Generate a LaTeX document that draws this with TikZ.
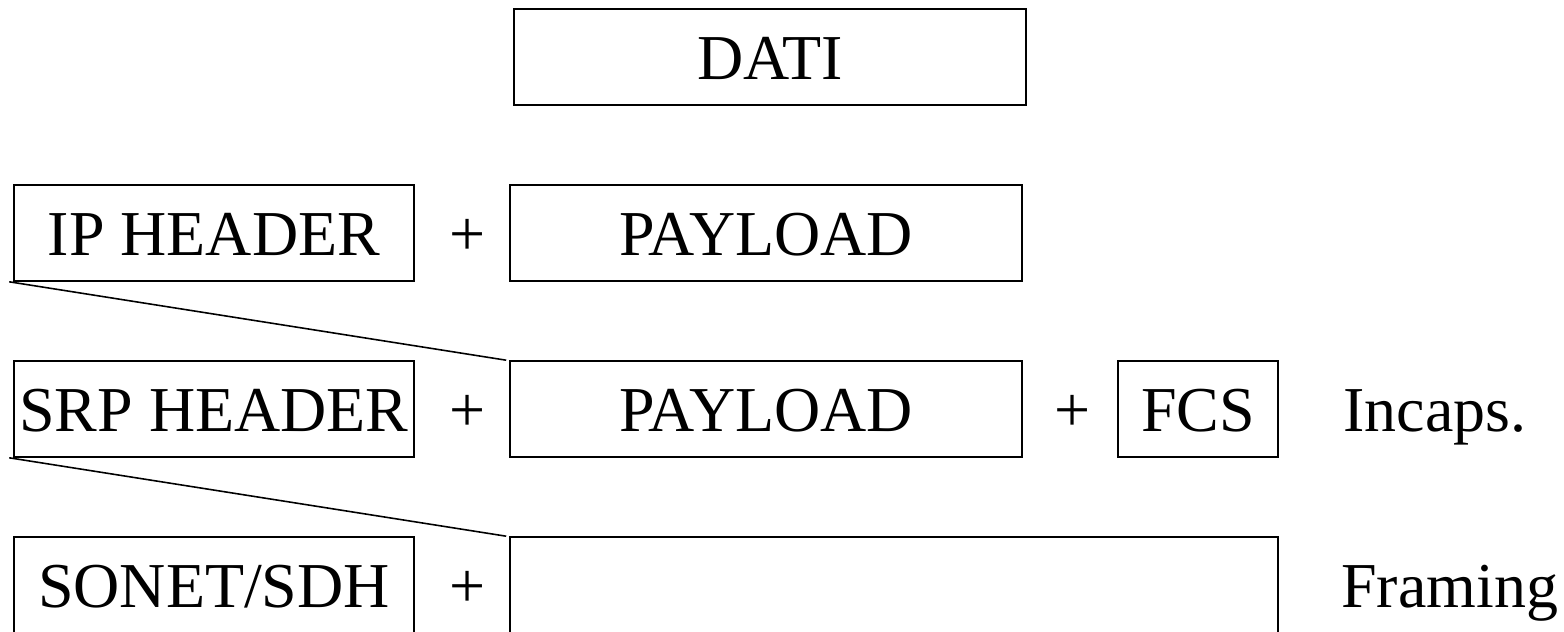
\documentclass[tikz,border=0pt]{standalone}
\usepackage{fontspec}
\setmainfont{Liberation Serif}
\begin{document}
\begin{tikzpicture}[every node/.style={font=\fontsize{36.4}{40}\selectfont, text height=0.92cm, text depth=0cm, inner sep=0pt}]
	\tikzstyle{hdr} = [rectangle, draw, line width=0.9pt, minimum height=1.92cm, minimum width=8cm]
	\tikzstyle{pay} = [rectangle, draw, line width=0.9pt, minimum height=1.92cm, minimum width=10.24cm]
	\tikzstyle{frm} = [rectangle, draw, line width=0.9pt, minimum height=1.92cm, minimum width=15.36cm]
	\tikzstyle{fcs} = [rectangle, draw, line width=0.9pt, minimum height=1.92cm, minimum width=3.2cm]
	
	\useasboundingbox (0,0) rectangle (31.28,12.64);
	
	\node[pay](d) at (15.4,11.5){DATI};
	
	\node[hdr](h-1) at (4.28,7.98){IP HEADER};
	\node[](s-1) at (9.36,7.98){+};
	\node[pay](p-1) at (15.32,7.98){PAYLOAD};
	
	\node[hdr](h-2) at (4.28,4.46){SRP HEADER};
	\node[](s-2) at (9.36,4.46){+};
	\node[pay](p-2) at (15.32,4.46){PAYLOAD};
	\node[](s-4) at (21.46,4.46){+};
	\node[fcs](fcs) at (23.96,4.46){FCS};
	\node[anchor=west](inc) at (26.86,4.46){Incaps.};
	
	\node[hdr](h-3) at (4.28,0.94){SONET/SDH};
	\node[](s-3) at (9.36,0.94){+};
	\node[frm](f) at (17.88,0.94){};
	\node[anchor=west](fr) at (26.82,0.94){Framing};
	
	\path[line width=0.9pt] ([xshift=-0.08cm]h-1.south west) edge ([xshift=-0.06cm]p-2.north west)
	([xshift=-0.08cm]h-2.south west) edge ([xshift=-0.06cm]f.north west);
\end{tikzpicture}
\end{document}
